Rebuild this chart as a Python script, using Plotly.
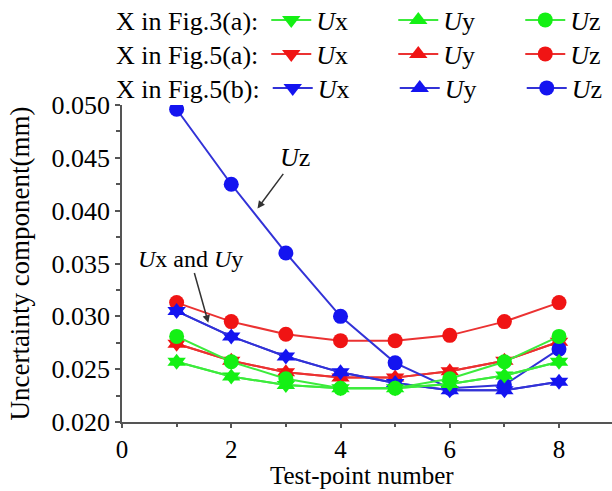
import plotly.graph_objects as go

# ---- data ----
test_points = [1, 2, 3, 4, 5, 6, 7, 8]

fig3a_ux = [0.0257, 0.0243, 0.0235, 0.0232, 0.0232, 0.0236, 0.0244, 0.0257]
fig3a_uy = [0.0257, 0.0243, 0.0235, 0.0232, 0.0232, 0.0236, 0.0244, 0.0257]
fig3a_uz = [0.0281, 0.0257, 0.0241, 0.0232, 0.0232, 0.0241, 0.0257, 0.0281]

fig5a_ux = [0.0274, 0.0258, 0.0247, 0.0242, 0.0242, 0.0248, 0.0258, 0.0276]
fig5a_uy = [0.0274, 0.0258, 0.0247, 0.0242, 0.0242, 0.0248, 0.0258, 0.0276]
fig5a_uz = [0.0313, 0.0295, 0.0283, 0.0277, 0.0277, 0.0282, 0.0295, 0.0313]

fig5b_ux = [0.0305, 0.0281, 0.0262, 0.0247, 0.0237, 0.0230, 0.0230, 0.0238]
fig5b_uy = [0.0305, 0.0281, 0.0262, 0.0247, 0.0237, 0.0230, 0.0230, 0.0238]
fig5b_uz = [0.0496, 0.0425, 0.0360, 0.0300, 0.0256, 0.0232, 0.0235, 0.0269]

group_titles = ["X in Fig.3(a):", "X in Fig.5(a):", "X in Fig.5(b):"]
component_names = ["<i>U</i>x", "<i>U</i>y", "<i>U</i>z"]
x_ticks = [0, 2, 4, 6, 8]
y_ticks = [0.020, 0.025, 0.030, 0.035, 0.040, 0.045, 0.050]
x_title = "Test-point number"
y_title = "Uncertainty component(mm)"

SERIF = "Liberation Serif, Times New Roman, serif"
RED = "rgb(240,20,20)"
GREEN = "rgb(20,240,20)"
BLUE = "rgb(20,20,240)"
LINE_COLORS = {"legend": "rgb(60,235,60)", "legend2": "rgb(235,50,50)", "legend3": "rgb(50,50,215)"}

groups = [
    ("legend", GREEN, [fig3a_ux, fig3a_uy, fig3a_uz]),
    ("legend2", RED, [fig5a_ux, fig5a_uy, fig5a_uz]),
    ("legend3", BLUE, [fig5b_ux, fig5b_uy, fig5b_uz]),
]
symbols = ["triangle-down", "triangle-up", "circle"]
sizes = [16, 16, 15]

fig = go.Figure()
# draw order: red, blue, green (green on top)
draw_order = [1, 2, 0]
for gi in draw_order:
    leg, color, series = groups[gi]
    for si in range(3):
        fig.add_trace(go.Scatter(
            x=test_points, y=series[si], mode="lines+markers",
            name=component_names[si], legend=leg,
            line=dict(color=LINE_COLORS[leg], width=2),
            marker=dict(symbol=symbols[si], size=sizes[si], color=color,
                        line=dict(width=0)),
        ))

# plot area in pixels
L, R, T, B = 122, 0, 105, 69
W, H = 612, 491
PW, PH = W - L - R, H - T - B

def px_to_paper_y(p):
    return (H - B - p) / PH

def px_to_paper_x(p):
    return (p - L) / PW

legend_font = dict(family=SERIF, size=26, color="black")
legend_common = dict(
    orientation="h", xanchor="left", yanchor="middle",
    xref="paper", yref="paper",
    font=legend_font,
    bgcolor="rgba(0,0,0,0)", itemwidth=40, entrywidth=72, entrywidthmode="pixels",
    tracegroupgap=0, traceorder="normal",
)
row_px = [20, 54, 88]
legend_x = px_to_paper_x(114)
fig.update_layout(
    legend=dict(x=legend_x, y=px_to_paper_y(row_px[0]),
                title=dict(text=group_titles[0], side="left", font=legend_font), **legend_common),
    legend2=dict(x=legend_x, y=px_to_paper_y(row_px[1]),
                 title=dict(text=group_titles[1], side="left", font=legend_font), **legend_common),
    legend3=dict(x=legend_x, y=px_to_paper_y(row_px[2]),
                 title=dict(text=group_titles[2], side="left", font=legend_font), **legend_common),
)

axis_common = dict(
    showline=True, linecolor="#555", linewidth=1.5, showgrid=False, zeroline=False,
    ticks="outside", tickwidth=1.5, tickcolor="#555",
    mirror=False, automargin=False,
)
fig.update_xaxes(range=[0, 8.97], tickvals=x_ticks, ticklen=4,
                 tickfont=dict(family=SERIF, size=25, color="black"),
                 minor=dict(dtick=1, tick0=0, ticks="outside", ticklen=3, tickcolor="#555"),
                 **axis_common)
fig.update_yaxes(range=[0.020, 0.050], tickvals=y_ticks, tickformat=".3f", ticklen=5,
                 tickfont=dict(family=SERIF, size=26, color="black"),
                 minor=dict(dtick=0.0025, tick0=0.020, ticks="outside", ticklen=4, tickcolor="#555"),
                 title=dict(text=y_title, font=dict(family=SERIF, size=27, color="black"),
                            standoff=14),
                 **axis_common)

# x-axis title placed as a paper annotation so it sits snugly below the tick labels
fig.add_annotation(xref="paper", yref="paper", x=px_to_paper_x(362), y=px_to_paper_y(475),
                   xanchor="center", yanchor="middle", showarrow=False,
                   text=x_title, font=dict(family=SERIF, size=25, color="black"))

fig.add_annotation(x=2.48, y=0.0402, ax=3.17, ay=0.0450, axref="x", ayref="y",
                   text="<i>U</i>z", showarrow=True, arrowhead=2, arrowsize=1,
                   arrowwidth=1.5, arrowcolor="#333",
                   font=dict(family=SERIF, size=26, color="black"))
fig.add_annotation(x=1.58, y=0.0294, ax=1.25, ay=0.03547, axref="x", ayref="y",
                   text="<i>U</i>x and <i>U</i>y", showarrow=True, arrowhead=2, arrowsize=1,
                   arrowwidth=1.5, arrowcolor="#333",
                   font=dict(family=SERIF, size=24, color="black"))

fig.update_layout(
    width=W, height=H,
    margin=dict(l=L, r=R, t=T, b=B, autoexpand=False),
    plot_bgcolor="white", paper_bgcolor="white",
    showlegend=True,
)

# remove the browser's default 8px body margin so the figure fills the window exactly
fig.write_html("out.html",
               config={"displayModeBar": False},
               post_script="document.body.style.margin='0';document.body.style.overflow='hidden';")
